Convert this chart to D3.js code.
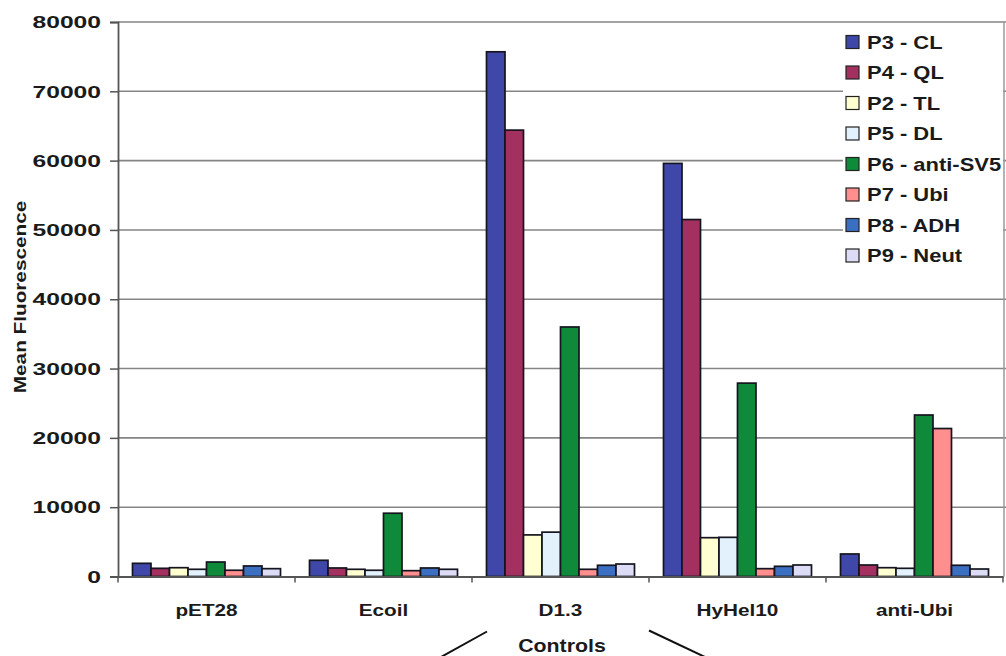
<!DOCTYPE html>
<html>
<head>
<meta charset="utf-8">
<script src="https://cdn.jsdelivr.net/npm/d3@7"></script>
<style>
  html, body { margin: 0; padding: 0; background: #fff; }
  svg { display: block; }
  text { font-family: "Liberation Sans", Arial, sans-serif; font-weight: bold; fill: #1a1a1a; }
</style>
</head>
<body>
<svg id="chart" width="1006" height="656"></svg>
<script>
// ---- data ----
const categories = ["pET28", "Ecoil", "D1.3", "HyHel10", "anti-Ubi"];
const seriesNames = ["P3 - CL", "P4 - QL", "P2 - TL", "P5 - DL", "P6 - anti-SV5", "P7 - Ubi", "P8 - ADH", "P9 - Neut"];
const P3_CL   = [1900, 2340, 75700, 59600, 3250];
const P4_QL   = [1180, 1230, 64400, 51500, 1660];
const P2_TL   = [1270, 1040, 6000, 5600, 1270];
const P5_DL   = [1040, 900, 6400, 5650, 1180];
const P6_SV5  = [2090, 9130, 36000, 27900, 23300];
const P7_Ubi  = [900, 840, 1040, 1130, 21350];
const P8_ADH  = [1520, 1230, 1620, 1470, 1620];
const P9_Neut = [1130, 1040, 1800, 1660, 1080];
const yTicks = [0, 10000, 20000, 30000, 40000, 50000, 60000, 70000, 80000];
const colors = ["#3f48a8", "#a3305f", "#ffffd2", "#e2f1fb", "#0f8a3b", "#ff8f8f", "#3b6fc2", "#dcdcf6"];
const yTitle = "Mean Fluorescence";
const groupLabel = "Controls";

const seriesValues = [P3_CL, P4_QL, P2_TL, P5_DL, P6_SV5, P7_Ubi, P8_ADH, P9_Neut];
const series = seriesNames.map((n, i) => ({ name: n, values: seriesValues[i], color: colors[i] }));

// ---- layout ----
const svg = d3.select("#chart");
const pLeft = 118, pRight = 1003, pTop = 22, pBottom = 576.5;
const SX = 1.22; // horizontal glyph stretch of the original

const y = d3.scaleLinear().domain([0, 80000]).range([pBottom, pTop]);
const x0 = d3.scaleBand().domain(categories).range([pLeft, pRight]).padding(0);
const x1 = d3.scaleBand().domain(seriesNames).range([14.5, x0.bandwidth() - 14.5]).padding(0);

function stext(g, str, x, yy, size, anchor, sx, rot) {
  return g.append("text")
    .attr("transform", `translate(${x},${yy})` + (rot ? ` rotate(${rot})` : "") + ` scale(${sx},1)`)
    .attr("text-anchor", anchor)
    .style("font-size", size + "px")
    .text(str);
}

// gridlines
svg.append("g").selectAll("line").data(yTicks.filter(t => t > 0)).join("line")
  .attr("x1", pLeft).attr("x2", 1006)
  .attr("y1", d => y(d)).attr("y2", d => y(d))
  .attr("stroke", "#858585").attr("stroke-width", 1.6);

// right border of plot
svg.append("line").attr("x1", 1004).attr("x2", 1004).attr("y1", pTop).attr("y2", pBottom)
  .attr("stroke", "#9a9a9a").attr("stroke-width", 1.5);

// bars
const groups = svg.append("g").selectAll("g").data(categories).join("g")
  .attr("transform", d => `translate(${x0(d)},0)`);
groups.selectAll("rect").data((c, ci) => series.map(s => ({ s, v: s.values[ci] }))).join("rect")
  .attr("x", d => x1(d.s.name))
  .attr("width", x1.bandwidth())
  .attr("y", d => y(d.v))
  .attr("height", d => y(0) - y(d.v))
  .attr("fill", d => d.s.color)
  .attr("stroke", "#15151f").attr("stroke-width", 1.7);

// y axis
const yAxis = d3.axisLeft(y).tickValues(yTicks).tickSize(8).tickFormat(() => "");
const ya = svg.append("g").attr("transform", `translate(${pLeft},0)`).call(yAxis);
ya.select(".domain").attr("stroke", "#555").attr("stroke-width", 1.8);
ya.selectAll(".tick line").attr("stroke", "#555").attr("stroke-width", 1.5);
const ylab = svg.append("g");
yTicks.forEach(t => stext(ylab, String(t), 101, y(t) + 6.2, 17, "end", 1.45));

// x axis
const xAxis = d3.axisBottom(x0).tickSize(0).tickFormat(() => "");
const xa = svg.append("g").attr("transform", `translate(0,${pBottom})`).call(xAxis);
xa.select(".domain").attr("stroke", "#555").attr("stroke-width", 1.8);
const boundaries = categories.map(c => x0(c)).concat([x0(categories[categories.length - 1]) + x0.bandwidth()]);
svg.append("g").selectAll("line").data(boundaries).join("line")
  .attr("x1", d => d).attr("x2", d => d).attr("y1", pBottom).attr("y2", pBottom + 6)
  .attr("stroke", "#555").attr("stroke-width", 1.5);
const xlab = svg.append("g");
categories.forEach(c => stext(xlab, c, x0(c) + x0.bandwidth() / 2, 616, 17, "middle", SX));

// y title
stext(svg, yTitle, 26, 297, 17, "middle", 1.22, -90);

// legend
const lg = svg.append("g");
lg.append("rect").attr("x", 843).attr("y", 23).attr("width", 160).attr("height", 250).attr("fill", "#fff");
series.forEach((s, i) => {
  const cy = 42 + i * 30.5;
  lg.append("rect").attr("x", 846).attr("y", cy - 6.5).attr("width", 13).attr("height", 13)
    .attr("fill", s.color).attr("stroke", "#222").attr("stroke-width", 1.2);
  stext(lg, s.name, 867, cy + 6.5, 18, "start", SX);
});

// controls annotation
stext(svg, groupLabel, 562, 652, 17.5, "middle", SX);
svg.append("line").attr("x1", 487).attr("y1", 631.5).attr("x2", 441).attr("y2", 657)
  .attr("stroke", "#111").attr("stroke-width", 2);
svg.append("line").attr("x1", 649).attr("y1", 630.5).attr("x2", 705).attr("y2", 657)
  .attr("stroke", "#111").attr("stroke-width", 2);
</script>
</body>
</html>
